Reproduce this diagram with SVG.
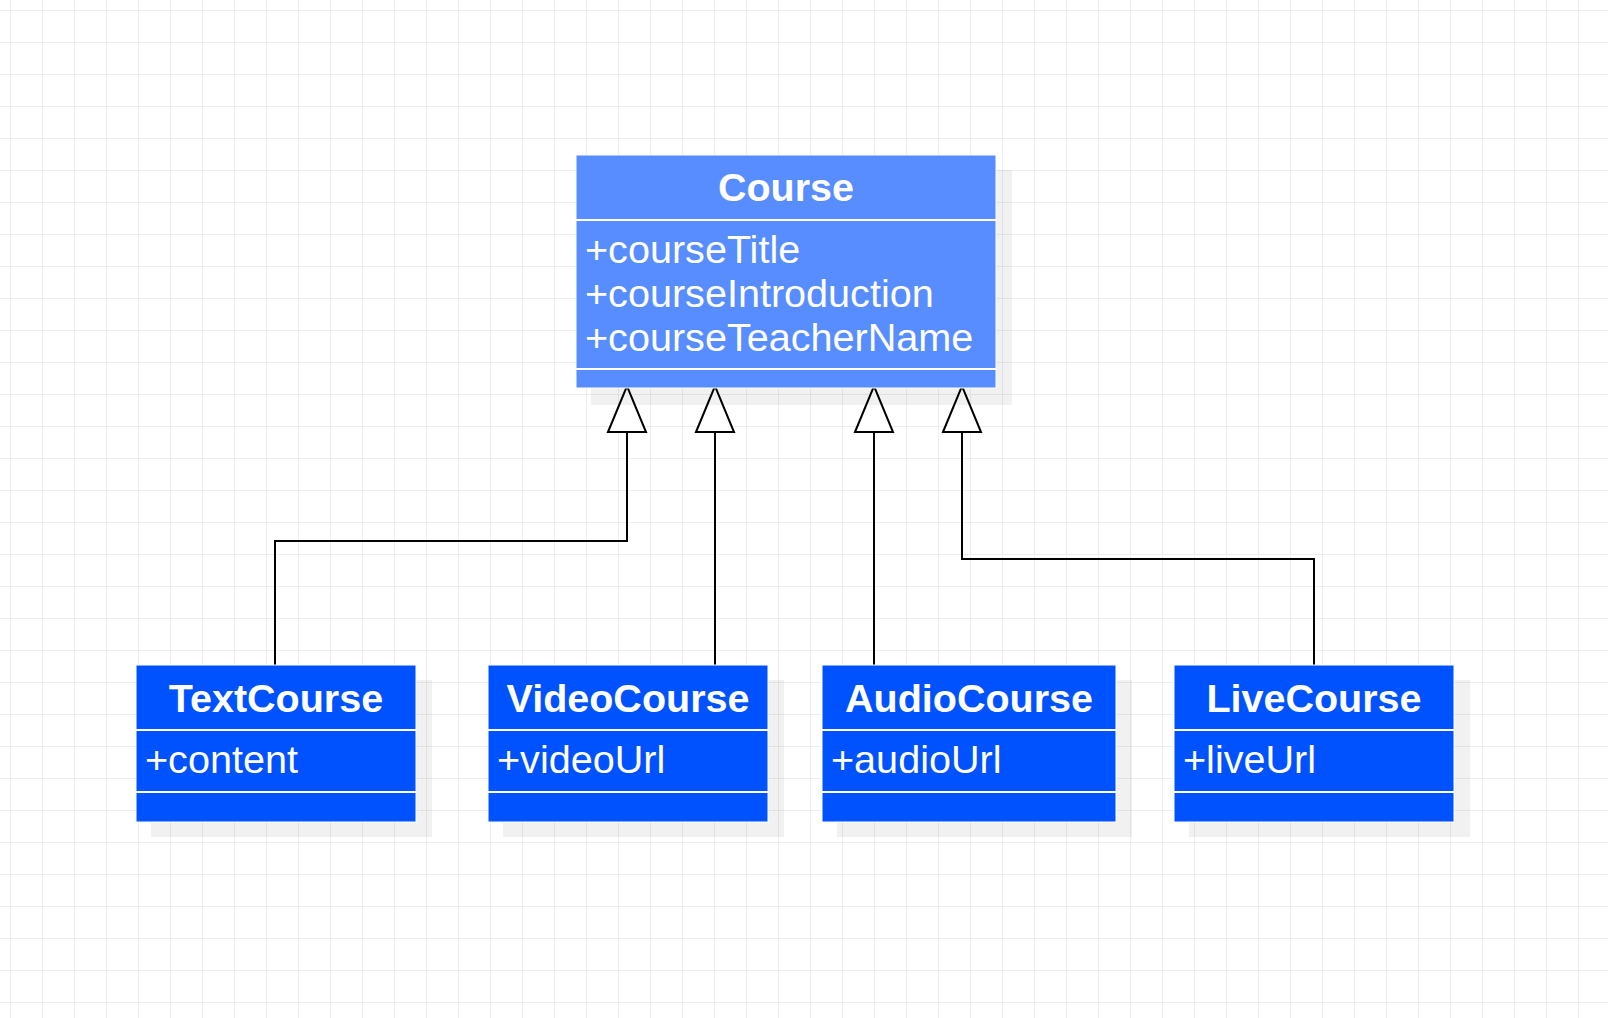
<svg xmlns="http://www.w3.org/2000/svg" width="1608" height="1018" viewBox="0 0 1608 1018">
  <style>
    .shadow { fill: #000000; fill-opacity: 0.055; }
    .parent { fill: #578DFF; stroke: #FFFFFF; stroke-width: 1; }
    .child { fill: #0052FF; stroke: #FFFFFF; stroke-width: 1; }
    .div { stroke: #FFFFFF; stroke-width: 2; }
    .title { font-family: "Liberation Sans", Arial, sans-serif; font-size: 39.5px; font-weight: bold; fill: #FFFFFF; text-anchor: middle; }
    .attr { font-family: "Liberation Sans", Arial, sans-serif; font-size: 39.6px; fill: #FFFFFF; }
    .edge { fill: none; stroke: #000000; stroke-width: 2; marker-end: url(#inherit); }
  </style>
  <defs>
    <pattern id="grid" patternUnits="userSpaceOnUse" x="10" y="10" width="32" height="32">
      <path d="M0,0.5 H32 M0.5,0 V32" stroke="#EDEDED" stroke-width="1" fill="none"/>
    </pattern>
    <marker id="inherit" viewBox="0 0 46 38" markerWidth="46" markerHeight="38" refX="44" refY="19" orient="auto" markerUnits="userSpaceOnUse" overflow="visible">
      <path d="M0,0 L46,19 L0,38 Z" fill="#FFFFFF" stroke="#000000" stroke-width="2"/>
    </marker>
  </defs>
  <rect x="0" y="0" width="1608" height="1018" fill="#FFFFFF"/>
  <rect x="0" y="0" width="1608" height="1018" fill="url(#grid)"/>

  <g id="connectors">
    <path class="edge" d="M275,665 V541 H627 V388"/>
    <path class="edge" d="M715,665 V388"/>
    <path class="edge" d="M874,665 V388"/>
    <path class="edge" d="M1314,665 V559 H962 V388"/>
  </g>

  <g id="Course">
    <rect class="shadow" x="591" y="170" width="421" height="235"/>
    <rect class="parent" x="576" y="155" width="420" height="233"/>
    <line class="div" x1="576" y1="220" x2="996" y2="220"/>
    <line class="div" x1="576" y1="369" x2="996" y2="369"/>
    <text class="title" x="786" y="201">Course</text>
    <text class="attr" x="585" y="263">+courseTitle</text>
    <text class="attr" x="585" y="307">+courseIntroduction</text>
    <text class="attr" x="585" y="351">+courseTeacherName</text>
  </g>

  <g id="TextCourse">
    <rect class="shadow" x="151" y="680" width="281" height="157"/>
    <rect class="child" x="136" y="665" width="280" height="157"/>
    <line class="div" x1="136" y1="730" x2="416" y2="730"/>
    <line class="div" x1="136" y1="792" x2="416" y2="792"/>
    <text class="title" x="276" y="712">TextCourse</text>
    <text class="attr" x="145" y="773">+content</text>
  </g>

  <g id="VideoCourse">
    <rect class="shadow" x="503" y="680" width="281" height="157"/>
    <rect class="child" x="488" y="665" width="280" height="157"/>
    <line class="div" x1="488" y1="730" x2="768" y2="730"/>
    <line class="div" x1="488" y1="792" x2="768" y2="792"/>
    <text class="title" x="628" y="712">VideoCourse</text>
    <text class="attr" x="497" y="773">+videoUrl</text>
  </g>

  <g id="AudioCourse">
    <rect class="shadow" x="837" y="680" width="295" height="157"/>
    <rect class="child" x="822" y="665" width="294" height="157"/>
    <line class="div" x1="822" y1="730" x2="1116" y2="730"/>
    <line class="div" x1="822" y1="792" x2="1116" y2="792"/>
    <text class="title" x="969" y="712">AudioCourse</text>
    <text class="attr" x="831" y="773">+audioUrl</text>
  </g>

  <g id="LiveCourse">
    <rect class="shadow" x="1189" y="680" width="281" height="157"/>
    <rect class="child" x="1174" y="665" width="280" height="157"/>
    <line class="div" x1="1174" y1="730" x2="1454" y2="730"/>
    <line class="div" x1="1174" y1="792" x2="1454" y2="792"/>
    <text class="title" x="1314" y="712">LiveCourse</text>
    <text class="attr" x="1183" y="773">+liveUrl</text>
  </g>
</svg>
